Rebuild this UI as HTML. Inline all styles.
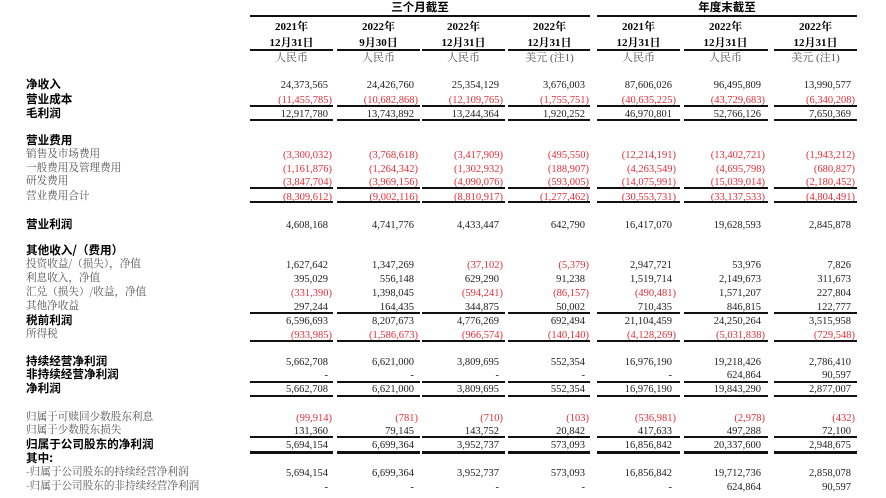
<!DOCTYPE html>
<html><head><meta charset="utf-8"><style>
body{margin:0;width:886px;height:498px;background:#fff;position:relative;overflow:hidden;font-family:"Liberation Serif","Noto Serif CJK SC","Noto Sans CJK SC",serif;}
.r{position:absolute;left:0;width:886px;height:16px;line-height:16px;font-size:10.5px;color:#222;}
.r span{position:absolute;white-space:nowrap;top:2px;}
.r .l{top:0;left:26px;font-size:10.6px;color:#555;font-family:"Noto Serif CJK SC","Noto Sans CJK SC",serif;}
.r .b{color:#000;font-weight:bold;font-size:11.6px;font-family:"Noto Sans CJK SC",sans-serif;}
.r span:nth-child(2){right:558px}.r span:nth-child(3){right:472px}.r span:nth-child(4){right:387px}
.r span:nth-child(5){right:301px}.r span:nth-child(6){right:214px}.r span:nth-child(7){right:125px}.r span:nth-child(8){right:35px}
.r .n{color:#e0303a;transform:translateX(4px);}
.h{position:absolute;text-align:center;width:83px;font-size:11px;line-height:14px;}
.ln{position:absolute;left:0;width:886px;height:0;}
.ln i{position:absolute;top:0;height:100%;background:#111;}
.ln i:nth-child(1){left:250px;width:83px}.ln i:nth-child(2){left:337px;width:83px}.ln i:nth-child(3){left:422px;width:83px}
.ln i:nth-child(4){left:508px;width:82px}.ln i:nth-child(5){left:597px;width:83px}.ln i:nth-child(6){left:684px;width:84px}.ln i:nth-child(7){left:774px;width:83px}
.t{position:absolute;font-weight:bold;font-size:11.5px;font-family:"Noto Sans CJK SC",sans-serif;text-align:center;line-height:14px;}
</style></head><body>
<div class="t" style="left:250px;width:340px;top:0">三个月截至</div>
<div class="t" style="left:597px;width:260px;top:0">年度末截至</div>
<div style="position:absolute;left:250px;width:340px;top:15px;height:2px;background:#111"></div>
<div style="position:absolute;left:597px;width:260px;top:15px;height:2px;background:#111"></div>

<div class="h" style="left:250px;top:20px;font-weight:bold">2021年<br><span style="line-height:19px">12月31日</span></div>
<div class="h" style="left:337px;top:20px;font-weight:bold">2022年<br><span style="line-height:19px">9月30日</span></div>
<div class="h" style="left:422px;top:20px;font-weight:bold">2022年<br><span style="line-height:19px">12月31日</span></div>
<div class="h" style="left:508px;top:20px;font-weight:bold">2022年<br><span style="line-height:19px">12月31日</span></div>
<div class="h" style="left:597px;top:20px;font-weight:bold">2021年<br><span style="line-height:19px">12月31日</span></div>
<div class="h" style="left:684px;top:20px;font-weight:bold">2022年<br><span style="line-height:19px">12月31日</span></div>
<div class="h" style="left:774px;top:20px;font-weight:bold">2022年<br><span style="line-height:19px">12月31日</span></div>
<div class="ln" style="top:49px;height:2px"><i></i><i></i><i></i><i></i><i></i><i></i><i></i></div>
<div class="h" style="left:250px;top:51px;color:#555">人民币</div>
<div class="h" style="left:337px;top:51px;color:#555">人民币</div>
<div class="h" style="left:422px;top:51px;color:#555">人民币</div>
<div class="h" style="left:508px;top:51px;color:#555">美元 (注1)</div>
<div class="h" style="left:597px;top:51px;color:#555">人民币</div>
<div class="h" style="left:684px;top:51px;color:#555">人民币</div>
<div class="h" style="left:774px;top:51px;color:#555">美元 (注1)</div>

<div class="r" style="top:76px"><span class="l b">净收入</span><span>24,373,565</span><span>24,426,760</span><span>25,354,129</span><span>3,676,003</span><span>87,606,026</span><span>96,495,809</span><span>13,990,577</span></div>
<div class="r" style="top:91px"><span class="l b">营业成本</span><span class="n">(11,455,785)</span><span class="n">(10,682,868)</span><span class="n">(12,109,765)</span><span class="n">(1,755,751)</span><span class="n">(40,635,225)</span><span class="n">(43,729,683)</span><span class="n">(6,340,208)</span></div>
<div class="ln" style="top:105px;height:1.5px"><i></i><i></i><i></i><i></i><i></i><i></i><i></i></div>
<div class="r" style="top:105px"><span class="l b">毛利润</span><span>12,917,780</span><span>13,743,892</span><span>13,244,364</span><span>1,920,252</span><span>46,970,801</span><span>52,766,126</span><span>7,650,369</span></div>
<div class="ln" style="top:119px;height:1.5px"><i></i><i></i><i></i><i></i><i></i><i></i><i></i></div>

<div class="r" style="top:132px"><span class="l b">营业费用</span></div>
<div class="r" style="top:146px"><span class="l">销售及市场费用</span><span class="n">(3,300,032)</span><span class="n">(3,768,618)</span><span class="n">(3,417,909)</span><span class="n">(495,550)</span><span class="n">(12,214,191)</span><span class="n">(13,402,721)</span><span class="n">(1,943,212)</span></div>
<div class="r" style="top:160px"><span class="l">一般费用及管理费用</span><span class="n">(1,161,876)</span><span class="n">(1,264,342)</span><span class="n">(1,302,932)</span><span class="n">(188,907)</span><span class="n">(4,263,549)</span><span class="n">(4,695,798)</span><span class="n">(680,827)</span></div>
<div class="r" style="top:173px"><span class="l">研发费用</span><span class="n">(3,847,704)</span><span class="n">(3,969,156)</span><span class="n">(4,090,076)</span><span class="n">(593,005)</span><span class="n">(14,075,991)</span><span class="n">(15,039,014)</span><span class="n">(2,180,452)</span></div>
<div class="ln" style="top:187px;height:1.5px"><i></i><i></i><i></i><i></i><i></i><i></i><i></i></div>
<div class="r" style="top:188px"><span class="l">营业费用合计</span><span class="n">(8,309,612)</span><span class="n">(9,002,116)</span><span class="n">(8,810,917)</span><span class="n">(1,277,462)</span><span class="n">(30,553,731)</span><span class="n">(33,137,533)</span><span class="n">(4,804,491)</span></div>
<div class="ln" style="top:201px;height:1.5px"><i></i><i></i><i></i><i></i><i></i><i></i><i></i></div>

<div class="r" style="top:216px"><span class="l b">营业利润</span><span>4,608,168</span><span>4,741,776</span><span>4,433,447</span><span>642,790</span><span>16,417,070</span><span>19,628,593</span><span>2,845,878</span></div>

<div class="r" style="top:242px"><span class="l b">其他收入/（费用）</span></div>
<div class="r" style="top:256px"><span class="l">投资收益/（损失），净值</span><span>1,627,642</span><span>1,347,269</span><span class="n">(37,102)</span><span class="n">(5,379)</span><span>2,947,721</span><span>53,976</span><span>7,826</span></div>
<div class="r" style="top:270px"><span class="l">利息收入，净值</span><span>395,029</span><span>556,148</span><span>629,290</span><span>91,238</span><span>1,519,714</span><span>2,149,673</span><span>311,673</span></div>
<div class="r" style="top:284px"><span class="l">汇兑（损失）/收益，净值</span><span class="n">(331,390)</span><span>1,398,045</span><span class="n">(594,241)</span><span class="n">(86,157)</span><span class="n">(490,481)</span><span>1,571,207</span><span>227,804</span></div>
<div class="r" style="top:298px"><span class="l">其他净收益</span><span>297,244</span><span>164,435</span><span>344,875</span><span>50,002</span><span>710,435</span><span>846,815</span><span>122,777</span></div>
<div class="ln" style="top:312px;height:1.5px"><i></i><i></i><i></i><i></i><i></i><i></i><i></i></div>
<div class="r" style="top:312px"><span class="l b">税前利润</span><span>6,596,693</span><span>8,207,673</span><span>4,776,269</span><span>692,494</span><span>21,104,459</span><span>24,250,264</span><span>3,515,958</span></div>
<div class="r" style="top:326px"><span class="l">所得税</span><span class="n">(933,985)</span><span class="n">(1,586,673)</span><span class="n">(966,574)</span><span class="n">(140,140)</span><span class="n">(4,128,269)</span><span class="n">(5,031,838)</span><span class="n">(729,548)</span></div>
<div class="ln" style="top:340px;height:1.5px"><i></i><i></i><i></i><i></i><i></i><i></i><i></i></div>

<div class="r" style="top:353px"><span class="l b">持续经营净利润</span><span>5,662,708</span><span>6,621,000</span><span>3,809,695</span><span>552,354</span><span>16,976,190</span><span>19,218,426</span><span>2,786,410</span></div>
<div class="r" style="top:366px"><span class="l b">非持续经营净利润</span><span>-</span><span>-</span><span>-</span><span>-</span><span>-</span><span>624,864</span><span>90,597</span></div>
<div class="ln" style="top:381px;height:1.5px"><i></i><i></i><i></i><i></i><i></i><i></i><i></i></div>
<div class="r" style="top:380px"><span class="l b">净利润</span><span>5,662,708</span><span>6,621,000</span><span>3,809,695</span><span>552,354</span><span>16,976,190</span><span>19,843,290</span><span>2,877,007</span></div>
<div class="ln" style="top:395px;height:1.5px"><i></i><i></i><i></i><i></i><i></i><i></i><i></i></div>

<div class="r" style="top:409px"><span class="l">归属于可赎回少数股东利息</span><span class="n">(99,914)</span><span class="n">(781)</span><span class="n">(710)</span><span class="n">(103)</span><span class="n">(536,981)</span><span class="n">(2,978)</span><span class="n">(432)</span></div>
<div class="r" style="top:422px"><span class="l">归属于少数股东损失</span><span>131,360</span><span>79,145</span><span>143,752</span><span>20,842</span><span>417,633</span><span>497,288</span><span>72,100</span></div>
<div class="ln" style="top:436px;height:1.5px"><i></i><i></i><i></i><i></i><i></i><i></i><i></i></div>
<div class="r" style="top:436px"><span class="l b">归属于公司股东的净利润</span><span>5,694,154</span><span>6,699,364</span><span>3,952,737</span><span>573,093</span><span>16,856,842</span><span>20,337,600</span><span>2,948,675</span></div>
<div class="ln" style="top:451px;height:3px"><i></i><i></i><i></i><i></i><i></i><i></i><i></i></div>
<div class="r" style="top:450px"><span class="l b">其中:</span></div>
<div class="r" style="top:464px"><span class="l">-归属于公司股东的持续经营净利润</span><span>5,694,154</span><span>6,699,364</span><span>3,952,737</span><span>573,093</span><span>16,856,842</span><span>19,712,736</span><span>2,858,078</span></div>
<div class="r" style="top:478px"><span class="l">-归属于公司股东的非持续经营净利润</span><span>-</span><span>-</span><span>-</span><span>-</span><span>-</span><span>624,864</span><span>90,597</span></div>
</body></html>
